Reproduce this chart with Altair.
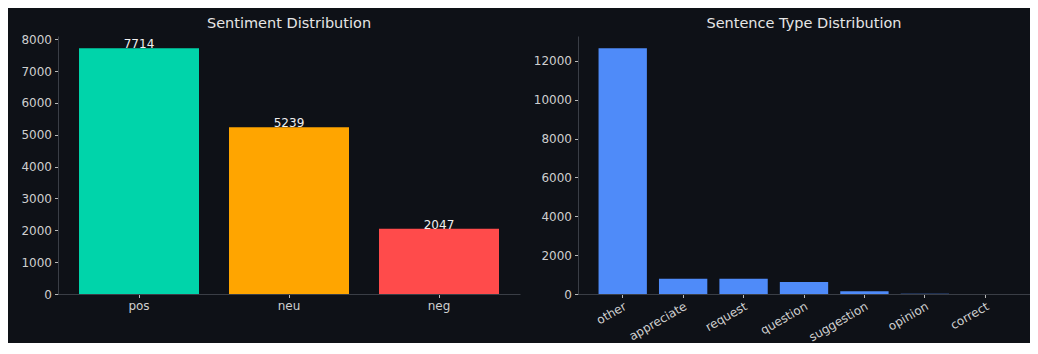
import altair as alt
import pandas as pd

sentiments = ["pos", "neu", "neg"]
sentiment_counts = [7714, 5239, 2047]
sentiment_colors = ["#00D4AA", "#FFA500", "#FF4B4B"]

sentence_types = ["other", "appreciate", "request", "question", "suggestion", "opinion", "correct"]
sentence_counts = [12650, 790, 780, 620, 140, 15, 5]
sentence_color = "#4F8BF9"

BG = "#0E1117"
FONT = "DejaVu Sans"

df1 = pd.DataFrame({"label": sentiments, "count": sentiment_counts})
df2 = pd.DataFrame({"label": sentence_types, "count": sentence_counts})

base1 = alt.Chart(df1).encode(
    x=alt.X("label:N", sort=sentiments,
            scale=alt.Scale(paddingInner=0.2, paddingOuter=0.14),
            axis=alt.Axis(title=None, labelAngle=0)),
    y=alt.Y("count:Q", scale=alt.Scale(domain=[0, 8100], nice=False),
            axis=alt.Axis(title=None, values=list(range(0, 8001, 1000)), format="d")),
)
bars1 = base1.mark_bar().encode(
    color=alt.Color("label:N", scale=alt.Scale(domain=sentiments, range=sentiment_colors), legend=None)
)
text1 = base1.mark_text(baseline="bottom", dy=3, color="#f0f0f0", fontSize=12, font=FONT).encode(
    text="count:Q"
)
left = alt.layer(bars1, text1).properties(
    width=462, height=258,
    title=alt.TitleParams("Sentiment Distribution", offset=2),
)

right = alt.Chart(df2).mark_bar(color=sentence_color).encode(
    x=alt.X("label:N", sort=sentence_types,
            scale=alt.Scale(paddingInner=0.2, paddingOuter=0.34),
            axis=alt.Axis(title=None, labelAngle=330, labelAlign="right", labelBaseline="top")),
    y=alt.Y("count:Q", scale=alt.Scale(domain=[0, 13282], nice=False),
            axis=alt.Axis(title=None, values=list(range(0, 12001, 2000)), format="d")),
).properties(
    width=452, height=258,
    title=alt.TitleParams("Sentence Type Distribution", offset=5),
)

chart = alt.hconcat(left, right, spacing=13).configure(
    background=BG,
    padding={"left": 12, "top": 7, "right": 0, "bottom": 0},
).configure_view(stroke=None).configure_axis(
    grid=False,
    domainColor="#3a3e46",
    tickColor="#b8b8b8",
    tickSize=3.5,
    labelColor="#cfcfcf",
    labelFont=FONT,
    labelFontSize=12,
    labelPadding=3,
).configure_title(
    color="#e6e6e6", font=FONT, fontSize=14.5, fontWeight="normal", anchor="middle"
)

chart.save("out.html", embed_options={"renderer": "svg", "actions": False})
